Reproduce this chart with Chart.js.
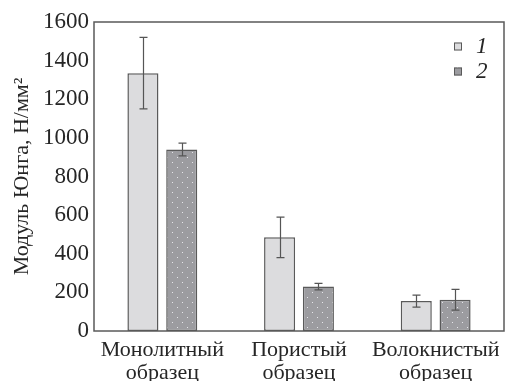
<!DOCTYPE html>
<html>
<head>
<meta charset="utf-8">
<script src="https://cdn.jsdelivr.net/npm/chart.js@4"></script>
<style>
  html, body { margin: 0; padding: 0; background: #fff; }
  #wrap { position: relative; width: 513px; height: 381px; }
  #c { position: relative; z-index: 1; }
  /* invisible text so the serif faces are resolved before the canvas uses them */
  #fontwarm { position: absolute; left: 0; top: 0; z-index: 0; color: transparent;
              font-family: "Liberation Serif"; font-size: 22px; white-space: nowrap; }
</style>
</head>
<body>
<div id="wrap">
  <div id="fontwarm">Модуль Юнга 1600 образец <i>1 2</i></div>
  <canvas id="c" width="513" height="381"></canvas>
</div>
<script>
// Sample types (two-line labels)
const categories = [["Монолитный", "образец"], ["Пористый", "образец"], ["Волокнистый", "образец"]];
const seriesLabels = ["1", "2"];
// Young's modulus, N/mm²
const series1 = [1335, 485, 155];
const series2 = [940, 230, 162];
// Error half-widths
const err1 = [185, 105, 31];
const err2 = [33, 17, 54];
const yTicks = [0, 200, 400, 600, 800, 1000, 1200, 1400, 1600];

const FONT = '"Liberation Serif"';
const INK = '#262626';
const EDGE = '#5a5a5a';

void document.getElementById('fontwarm').offsetWidth;

// dotted fill for series 2
function dotPattern() {
  const p = document.createElement('canvas');
  p.width = 10; p.height = 10;
  const g = p.getContext('2d');
  g.fillStyle = '#9c9ca0';
  g.fillRect(0, 0, 10, 10);
  g.fillStyle = '#e6e6ea';
  g.fillRect(2, 2, 1, 1);
  g.fillRect(7, 7, 1, 1);
  return g.createPattern(p, 'repeat');
}
const ctx0 = document.getElementById('c').getContext('2d');
const pattern = dotPattern();

const errors = [err1, err2];

const errorBars = {
  id: 'errorBars',
  afterDatasetsDraw(chart) {
    const { ctx } = chart;
    const y = chart.scales.y;
    ctx.save();
    ctx.strokeStyle = '#555';
    ctx.lineWidth = 1.2;
    chart.data.datasets.forEach((ds, di) => {
      const meta = chart.getDatasetMeta(di);
      meta.data.forEach((bar, i) => {
        const v = ds.data[i], e = errors[di][i];
        const x = Math.round(bar.x) + 0.5;
        const yt = y.getPixelForValue(v + e);
        const yb = y.getPixelForValue(v - e);
        ctx.beginPath();
        ctx.moveTo(x, yt); ctx.lineTo(x, yb);
        ctx.moveTo(x - 4, yt); ctx.lineTo(x + 4, yt);
        ctx.moveTo(x - 4, yb); ctx.lineTo(x + 4, yb);
        ctx.stroke();
      });
    });
    ctx.restore();
  }
};

const frame = {
  id: 'frame',
  afterDraw(chart) {
    const { ctx, chartArea: a } = chart;
    ctx.save();
    ctx.strokeStyle = EDGE;
    ctx.lineWidth = 1.5;
    ctx.strokeRect(a.left, a.top, a.right - a.left, a.bottom - a.top);
    // legend
    chart.data.datasets.forEach((ds, i) => {
      const yy = 46.5 + i * 25;
      ctx.fillStyle = ds.backgroundColor;
      ctx.fillRect(454, yy - 4, 8, 8);
      ctx.strokeStyle = EDGE;
      ctx.lineWidth = 1;
      ctx.strokeRect(454.5, yy - 3.5, 7, 7);
      ctx.fillStyle = INK;
      ctx.font = 'italic 23px ' + FONT;
      ctx.textBaseline = 'middle';
      ctx.textAlign = 'left';
      ctx.fillText(ds.label, 476, yy);
    });
    ctx.restore();
  }
};

Chart.defaults.font.family = FONT;

const chart = new Chart(ctx0, {
  type: 'bar',
  data: {
    labels: categories,
    datasets: [
      { label: seriesLabels[0], data: series1, backgroundColor: '#dcdcde', borderColor: EDGE, borderWidth: 1.5, borderSkipped: false },
      { label: seriesLabels[1], data: series2, backgroundColor: pattern, borderColor: EDGE, borderWidth: 1.5, borderSkipped: false }
    ]
  },
  options: {
    responsive: false,
    animation: false,
    devicePixelRatio: 1,
    layout: { padding: { top: 22, right: 9, left: 0, bottom: 0 } },
    datasets: { bar: { categoryPercentage: 0.568, barPercentage: 0.8 } },
    plugins: { legend: { display: false }, tooltip: { enabled: false } },
    scales: {
      x: {
        grid: { display: false, drawTicks: false },
        border: { display: false },
        ticks: { color: INK, font: { family: FONT, size: 22, lineHeight: 1.05 }, padding: 8, maxRotation: 0, autoSkip: false },
        afterFit(s) { s.height = 50; }
      },
      y: {
        min: 0, max: 1600,
        afterBuildTicks(s) { s.ticks = yTicks.map(v => ({ value: v })); },
        grid: { display: false, drawTicks: true, tickLength: 3, tickColor: EDGE },
        border: { display: false },
        ticks: { color: INK, font: { family: FONT, size: 23 }, padding: 2, callback: v => String(v) },
        title: { display: true, text: 'Модуль Юнга, Н/мм²', color: INK, font: { family: FONT, size: 22 }, padding: { top: 9, bottom: 0 } },
        afterFit(s) { s.width = 94; }
      }
    }
  },
  plugins: [errorBars, frame]
});

// redraw once the faces are surely available
const redraw = () => chart.update('none');
if (document.fonts && document.fonts.ready) document.fonts.ready.then(() => requestAnimationFrame(redraw));
window.addEventListener('load', redraw);
setTimeout(redraw, 150);
</script>
</body>
</html>
